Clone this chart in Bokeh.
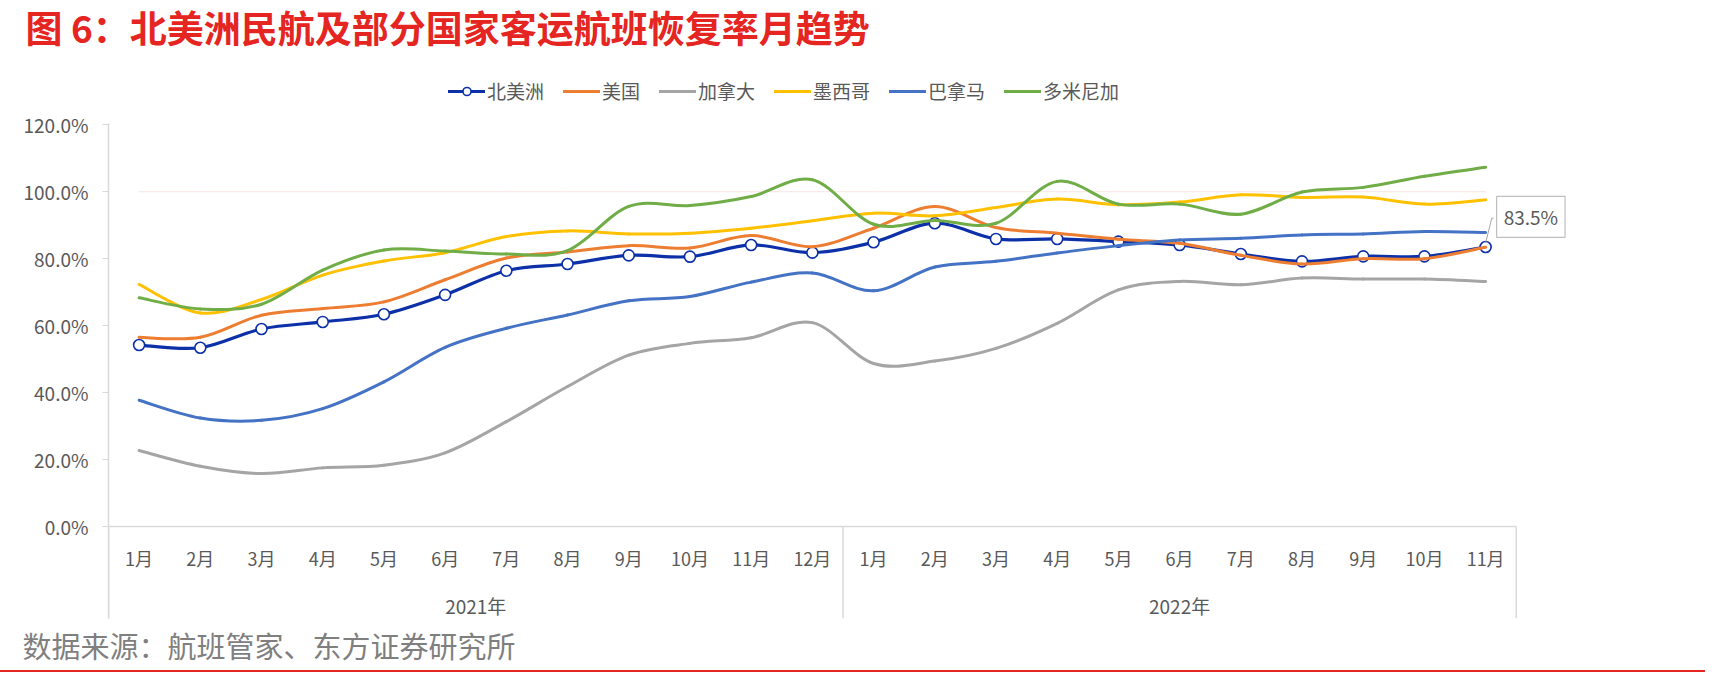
import numpy as np
from bokeh.plotting import figure
from bokeh.layouts import column
from bokeh.models import (Range1d, FixedTicker, PrintfTickFormatter, Legend, LegendItem,
                          Label, Title, Div, ColumnDataSource)
from bokeh.core.properties import value
from bokeh.embed import file_html
from bokeh.resources import INLINE

# ---- data -----------------------------------------------------------------
months = ["1月", "2月", "3月", "4月", "5月", "6月", "7月", "8月", "9月", "10月", "11月", "12月",
          "1月", "2月", "3月", "4月", "5月", "6月", "7月", "8月", "9月", "10月", "11月"]
years = ["2021年"] * 12 + ["2022年"] * 11

# passenger flight recovery rate, % of 2019 level
north_america = [54.2, 53.4, 59.0, 61.1, 63.4, 69.2, 76.4, 78.4, 81.0, 80.6, 84.1, 81.8,
                 84.9, 90.6, 85.9, 85.9, 85.1, 84.1, 81.4, 79.2, 80.7, 80.7, 83.5]
usa = [56.5, 56.5, 63.1, 65.1, 67.1, 73.7, 80.2, 82.0, 83.9, 83.2, 86.9, 83.6,
       89.1, 95.6, 89.3, 87.6, 85.8, 84.6, 81.0, 78.4, 80.0, 80.0, 83.4]
canada = [22.7, 18.0, 15.8, 17.5, 18.3, 22.0, 31.3, 41.8, 51.2, 54.7, 56.4, 60.9,
          48.7, 49.4, 53.2, 60.7, 70.7, 73.2, 72.2, 74.2, 73.9, 73.9, 73.2]
mexico = [72.3, 63.8, 67.8, 75.1, 79.3, 81.8, 86.6, 88.3, 87.4, 87.6, 89.1, 91.3,
          93.6, 92.8, 95.3, 97.8, 96.1, 96.9, 99.1, 98.3, 98.4, 96.3, 97.6]
panama = [37.7, 32.4, 31.7, 35.2, 43.2, 53.5, 59.2, 63.2, 67.4, 68.7, 73.0, 75.7,
          70.4, 77.5, 79.2, 81.7, 83.9, 85.6, 86.1, 87.1, 87.4, 88.1, 87.8]
dominican = [68.3, 65.0, 66.4, 76.6, 82.6, 82.3, 81.4, 82.4, 95.6, 95.9, 98.6, 103.6,
             90.3, 91.4, 90.6, 103.1, 96.3, 96.3, 93.3, 99.9, 101.3, 104.6, 107.3]
full_recovery = 100.0

series_names = ["北美洲", "美国", "加拿大", "墨西哥", "巴拿马", "多米尼加"]
series_values = [north_america, usa, canada, mexico, panama, dominican]
series_colors = ["#0b30a8", "#ed7d31", "#a5a5a5", "#ffc000", "#4472c4", "#70ad47"]

title_text = "图 6：北美洲民航及部分国家客运航班恢复率月趋势"
source_text = "数据来源：航班管家、东方证券研究所"

FONT = "Noto Sans CJK SC"
TEXT_GREY = "#595959"
RULE_GREY = "#d9d9d9"
RED = "#e52521"

n = len(months)
xs = np.arange(n, dtype=float)
y_axis_top = 120.5


def smooth_segments(ys):
    """Cubic Bezier pieces through every point (Catmull-Rom style tangents)."""
    y = np.asarray(ys, dtype=float)
    xp = np.concatenate([[xs[0]], xs, [xs[-1]]])
    yp = np.concatenate([[y[0]], y, [y[-1]]])
    tx = (xp[2:] - xp[:-2]) / 6.0
    ty = (yp[2:] - yp[:-2]) / 6.0
    return ColumnDataSource(dict(
        x0=xs[:-1], y0=y[:-1], x1=xs[1:], y1=y[1:],
        cx0=xs[:-1] + tx[:-1], cy0=y[:-1] + ty[:-1],
        cx1=xs[1:] - tx[1:], cy1=y[1:] - ty[1:],
    ))


p = figure(width=1736, height=670, output_backend="svg", toolbar_location=None,
           x_range=Range1d(-0.5, 23.55), y_range=Range1d(-27.5, 141.3),
           x_axis_location=None, y_axis_location="left",
           min_border_left=108, min_border_right=156, min_border_top=0, min_border_bottom=0)
p.grid.visible = False
p.outline_line_color = None
p.background_fill_color = "white"
p.border_fill_color = "white"

# heading
p.title.text = title_text
p.title.align = "left"
p.title.offset = -83
p.title.vertical_align = "middle"
p.title.standoff = -3
p.title.text_font = FONT
p.title.text_font_size = "37px"
p.title.text_font_style = "bold"
p.title.text_color = RED

# source note under the chart
p.add_layout(Title(text=source_text, align="left", offset=-86, vertical_align="middle",
                   standoff=8, text_font=FONT, text_font_size="29px",
                   text_font_style="normal", text_color="#7f7f7f"), "below")

# y axis
yax = p.yaxis[0]
yax.ticker = FixedTicker(ticks=[0, 20, 40, 60, 80, 100, 120])
yax.formatter = PrintfTickFormatter(format="%.1f%%")
yax.bounds = (p.y_range.start, y_axis_top)
yax.axis_line_color = RULE_GREY
yax.axis_line_width = 1.5
yax.major_tick_line_color = RULE_GREY
yax.major_tick_out = 6
yax.major_tick_in = 0
yax.minor_tick_line_color = None
yax.major_label_standoff = 14
yax.major_label_text_font = FONT
yax.major_label_text_font_size = "19px"
yax.major_label_text_color = TEXT_GREY

# category axis: baseline, group dividers, month and year labels
bounds = [-0.5] + [i - 0.5 for i in range(1, n) if years[i] != years[i - 1]] + [n - 0.5]
p.segment(x0=[bounds[0]], y0=[0], x1=[bounds[-1]], y1=[0], line_color=RULE_GREY, line_width=1.5)
p.segment(x0=bounds, y0=[p.y_range.start] * len(bounds), x1=bounds, y1=[0] * len(bounds),
          line_color=RULE_GREY, line_width=1.5)
p.text(x=xs, y=[-9.3] * n, text=months, text_font=value(FONT), text_font_size="18px",
       text_color=TEXT_GREY, text_align="center", text_baseline="middle")
year_labels = [years[int(a + 0.5)] for a in bounds[:-1]]
year_centers = [(a + b) / 2 for a, b in zip(bounds[:-1], bounds[1:])]
p.text(x=year_centers, y=[-23.6] * len(year_centers), text=year_labels, text_font=value(FONT),
       text_font_size="19px", text_color=TEXT_GREY, text_align="center", text_baseline="middle")

# 100% reference
p.line(x=xs, y=[full_recovery] * n, line_color="#f7e3e3", line_width=1)

# series
legend_items = []
for name, vals, color in zip(series_names, series_values, series_colors):
    lw = 3.2 if name == "北美洲" else 3
    r = p.bezier(x0="x0", y0="y0", x1="x1", y1="y1", cx0="cx0", cy0="cy0", cx1="cx1", cy1="cy1",
                 source=smooth_segments(vals), line_color=color, line_width=lw, line_cap="round")
    renderers = [r]
    if name == "北美洲":
        renderers.append(p.scatter(x=xs, y=vals, marker="circle", size=11, fill_color="white",
                                   line_color=color, line_width=1.6))
    legend_items.append(LegendItem(label=name, renderers=renderers))

legend = Legend(items=legend_items, orientation="horizontal", location=(340, 514),
                glyph_width=37, glyph_height=20, label_height=20, label_standoff=2, spacing=19,
                padding=0, margin=0, border_line_color=None, background_fill_alpha=0,
                label_text_font=FONT, label_text_font_size="19px", label_text_color=TEXT_GREY)
p.add_layout(legend)

# value callout on the latest North America point
last_x, last_y = xs[-1], north_america[-1]
p.line(x=[last_x, last_x + 0.1, last_x + 0.13], y=[last_y + 1.2, last_y + 8.6, last_y + 8.6],
       line_color="#a6a6a6", line_width=1)
p.add_layout(Label(x=last_x, y=last_y, x_offset=11, y_offset=30, text=f"{last_y:.1f}%",
                   text_font=FONT, text_font_size="19px", text_color=TEXT_GREY,
                   text_align="left", text_baseline="middle", padding=7,
                   background_fill_color="white", border_line_color="#bfbfbf",
                   border_line_width=1.2))

# red rule closing the figure
rule = Div(text="", width=1705, height=2, margin=0, styles={"background-color": RED})

layout = column(p, rule, spacing=0)
open("out.html", "w").write(file_html(layout, INLINE))
